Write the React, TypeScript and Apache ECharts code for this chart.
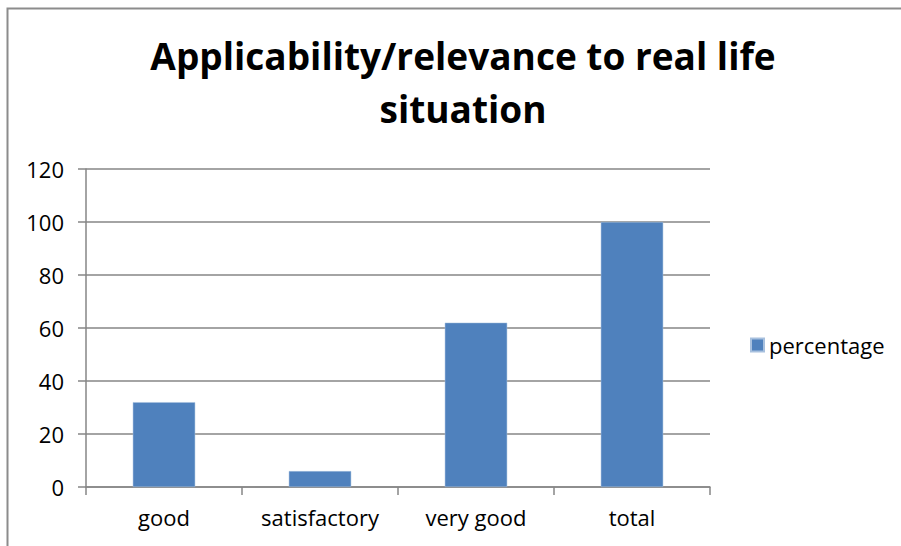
import React, { useEffect, useRef } from "react";
import * as echarts from "echarts";

const categories = ["good", "satisfactory", "very good", "total"];
const percentage = [32, 6, 62, 100];
const seriesName = "percentage";
const titleText = "Applicability/relevance to real life\nsituation";

const FONT = "'Open Sans', Lato, sans-serif";
const AXIS_GRAY = "#868686";
const BAR_BLUE = "#4f81bd";

export default function App() {
  const ref = useRef<HTMLDivElement>(null);

  useEffect(() => {
    document.body.style.margin = "0";
    if (!ref.current) return;
    const chart = echarts.init(ref.current, undefined, { renderer: "svg" });
    chart.setOption({
      animation: false,
      backgroundColor: "#ffffff",
      title: {
        text: titleText,
        left: 458,
        top: 24,
        textAlign: "center",
        textStyle: {
          fontFamily: FONT,
          fontWeight: "bold",
          fontSize: 37,
          lineHeight: 53,
          color: "#000000",
        },
      },
      legend: {
        data: [seriesName],
        left: 745,
        top: 329,
        orient: "vertical",
        icon: "rect",
        itemWidth: 13,
        itemHeight: 13,
        itemGap: 6,
        textStyle: { fontFamily: FONT, fontSize: 22, color: "#000000" },
      },
      grid: { left: 86, right: 191, top: 169, bottom: 59, containLabel: false },
      xAxis: {
        type: "category",
        data: categories,
        axisLine: { lineStyle: { color: AXIS_GRAY, width: 1.5 } },
        axisTick: { show: true, length: 8, alignWithLabel: false, lineStyle: { color: AXIS_GRAY, width: 1.5 } },
        axisLabel: { fontFamily: FONT, fontSize: 22, color: "#000000", margin: 19 },
      },
      yAxis: {
        type: "value",
        min: 0,
        max: 120,
        interval: 20,
        axisLine: { show: true, lineStyle: { color: AXIS_GRAY, width: 1.5 } },
        axisTick: { show: true, length: 8, lineStyle: { color: AXIS_GRAY, width: 1.5 } },
        axisLabel: { fontFamily: FONT, fontSize: 22, color: "#000000", margin: 22 },
        splitLine: { show: true, lineStyle: { color: AXIS_GRAY, width: 1.5 } },
      },
      series: [
        {
          name: seriesName,
          type: "bar",
          data: percentage,
          barWidth: "40%",
          itemStyle: { color: BAR_BLUE, borderColor: "#a7c0de", borderWidth: 0.5 },
        },
      ],
      graphic: [
        {
          type: "rect",
          silent: true,
          shape: { x: 7.5, y: 8.5, width: 1000, height: 1000 },
          style: { fill: "none", stroke: "#8c8c8c", lineWidth: 2 },
        },
      ],
    });
    return () => chart.dispose();
  }, []);

  return (
    <div
      ref={ref}
      style={{ position: "absolute", left: 0, top: 0, width: 901, height: 546 }}
    />
  );
}
